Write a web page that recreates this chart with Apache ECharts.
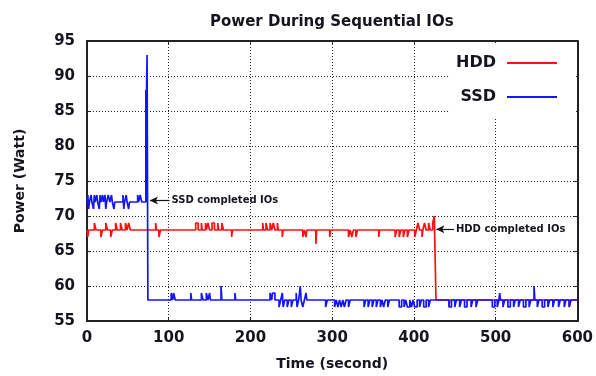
<!DOCTYPE html>
<html>
<head>
<meta charset="utf-8">
<script src="https://cdn.jsdelivr.net/npm/echarts@6/dist/echarts.min.js"></script>
<style>html,body{margin:0;padding:0;background:#fff}#c{width:596px;height:376px}</style>
</head>
<body>
<div id="c"></div>
<script>
// Data: change points [time (s), power (W)]
var seriesNames = ['HDD', 'SSD'];
var hddPoints = [
[0,68],[1,67],[2,68],[9,69],[11,68],[17,67],[19,68],[23,69],[25,68],[29,67],[31,68],[35,69],[37,68],[41,69],[43,68],[47,69],[49,68],[51,69],[53,68],[84,69],[85,68],[88,67],[90,68],
[133,69],[136,68],[140,69],[141,68],[145,69],[146,68],[148,69],[150,68],[153,69],[156,68],[160,69],[161,68],[165,69],[167,68],[177,67],[178,68],
[215,69],[216,68],[219,69],[221,68],[224,69],[226,68],[228,69],[230,68],[233,69],[234,68],[239,67],[240,68],
[264,67],[266,68],[268,67],[269,68],[280,66],[281,68],[297,67],[298,68],[320,67],[322,68],[324,67],[326,68],[329,67],[331,68],[357,67],[358,68],
[377,67],[379,68],[382,67],[384,68],[387,67],[389,68],[392,67],[394,68],[401,67],[403,68],[405,69],[407,68],[410,67],[411,68],[413,69],[415,68],[418,69],[420,68],[423,69],[425,70],[427,58],
[443,57],[444,58],[590,57],[592,58],[600,58]
];
var ssdPoints = [
[0,72],[1,73],[2,71],[3,72],[5,73],[6,72],[8,71],[9,73],[10,72],[12,73],[13,72],[15,71],[16,73],[17,72],[19,73],[20,72],[22,73],[23,71],[24,72],[26,73],[28,72],[30,73],[31,72],[33,71],[34,72],[44,73],[45,71],[46,72],[48,73],[49,72],[51,71],[52,72],[62,73],[63,72],[65,73],[67,72],[72,88],[72.5,85],[73.5,93],[74.5,58],
[103,59],[105,58],[106,59],[108,58],[127,59],[128,58],[140,59],[142,58],[146,59],[148,58],[150,59],[151,58],[164,60],[165,58],[181,59],[182,58],
[224,59],[226,58],[227,59],[230,58],[235,57],[237,58],[239,59],[240,57],[242,58],[245,57],[247,58],[250,57],[252,58],[256,59],[257,57],[259,58],[261,60],[262,58],[264,57],[266,58],[268,59],[269,58],
[292,57],[294,58],[303,57],[305,58],[307,57],[309,58],[311,57],[313,58],[315,57],[317,58],[320,57],[322,58],
[339,57],[341,58],[344,57],[346,58],[349,57],[351,58],[354,57],[356,58],[359,57],[361,58],[363,57],[365,58],[368,57],[370,58],
[382,57],[385,58],[388,57],[390,58],[392,57],[395,58],[397,57],[399,58],[401,57],[404,58],[407,57],[409,58],[412,57],[415,58],[418,57],[420,58],
[443,57],[446,58],[450,57],[452,58],[456,57],[458,58],[462,57],[465,58],[470,57],[472,58],[476,57],[478,58],
[496,57],[499,58],[502,57],[504,58],[505,59],[506,58],[509,57],[511,58],[515,57],[518,58],[522,57],[524,58],[528,57],[530,58],[534,57],[537,58],[541,57],[543,58],[547,60],[548,58],[551,57],[553,58],[557,57],[560,58],[564,57],[566,58],[570,57],[572,58],[577,57],[579,58],[584,57],[586,58],[590,57],[592,58],[600,58]
];
// Annotations: [label, arrow start [t,W], arrow tip [t,W]]
var ssdNote = ['SSD completed IOs', [101, 72.2], [77, 72.2]];
var hddNote = ['HDD completed IOs', [449, 68.1], [427.5, 68.1]];
var xRange = [0, 600, 100];
var yRange = [55, 95, 5];

var FONT = 'DejaVu Sans';
var TXT = '#151520';
var chart = echarts.init(document.getElementById('c'), null, {renderer: 'canvas'});
var grid = {left: 87, right: 17, top: 41, bottom: 53};
var dotted = {color: '#222', width: 1, type: [1, 2]};
function note(n) {
  return {
    silent: true,
    symbol: ['none', 'arrow'],
    symbolSize: [6, 8],
    lineStyle: {color: '#111', width: 1.2, type: 'solid'},
    label: {show: true, position: 'start', distance: 2, formatter: n[0],
      fontFamily: FONT, fontWeight: 'bold', fontSize: 10, color: TXT},
    data: [[{coord: n[1]}, {coord: n[2]}]]
  };
}
var option = {
  animation: false,
  backgroundColor: '#fff',
  title: {text: 'Power During Sequential IOs', left: 205, top: 10,
    textStyle: {fontFamily: FONT, fontWeight: 'bold', fontSize: 15, color: TXT}},
  legend: {
    data: seriesNames, orient: 'vertical', right: 20, top: 43, align: 'right',
    backgroundColor: '#fff', padding: [11, 19, 12, 6],
    icon: 'rect', itemWidth: 50, itemHeight: 2, itemGap: 16,
    textStyle: {fontFamily: FONT, fontWeight: 'bold', fontSize: 16, color: TXT, lineHeight: 18, padding: [0, 6, 0, 0]}
  },
  grid: grid,
  xAxis: [{
    type: 'value', min: xRange[0], max: xRange[1], interval: xRange[2],
    name: 'Time (second)', nameLocation: 'middle', nameGap: 36,
    nameTextStyle: {fontFamily: FONT, fontWeight: 'bold', fontSize: 14, color: TXT},
    axisLine: {show: true, onZero: false, lineStyle: {color: '#222', width: 2}},
    axisTick: {show: true, inside: true, length: 4, lineStyle: {color: '#222'}},
    axisLabel: {fontFamily: FONT, fontWeight: 'bold', fontSize: 15, color: TXT, margin: 10},
    splitLine: {show: true, lineStyle: dotted}
  }, {
    type: 'value', position: 'top', min: xRange[0], max: xRange[1], interval: xRange[2],
    axisLine: {show: true, onZero: false, lineStyle: {color: '#222', width: 2}},
    axisTick: {show: true, inside: true, length: 4, lineStyle: {color: '#222'}},
    axisLabel: {show: false}, splitLine: {show: false}
  }],
  yAxis: [{
    type: 'value', min: yRange[0], max: yRange[1], interval: yRange[2],
    name: 'Power (Watt)', nameLocation: 'middle', nameGap: 60, nameRotate: 90,
    nameTextStyle: {fontFamily: FONT, fontWeight: 'bold', fontSize: 14, color: TXT},
    axisLine: {show: true, onZero: false, lineStyle: {color: '#222', width: 2}},
    axisTick: {show: true, inside: true, length: 4, lineStyle: {color: '#222'}},
    axisLabel: {fontFamily: FONT, fontWeight: 'bold', fontSize: 15, color: TXT, margin: 12},
    splitLine: {show: true, lineStyle: dotted}
  }, {
    type: 'value', position: 'right', min: yRange[0], max: yRange[1], interval: yRange[2],
    axisLine: {show: true, onZero: false, lineStyle: {color: '#222', width: 2}},
    axisTick: {show: true, inside: true, length: 4, lineStyle: {color: '#222'}},
    axisLabel: {show: false}, splitLine: {show: false}
  }],
  series: [{
    name: seriesNames[0], type: 'line', step: 'end', showSymbol: false, symbol: 'none',
    data: hddPoints, color: '#ff1010',
    lineStyle: {color: '#ff1010', width: 1.7},
    markLine: note(hddNote)
  }, {
    name: seriesNames[1], type: 'line', step: 'end', showSymbol: false, symbol: 'none',
    data: ssdPoints, color: '#1414ff',
    lineStyle: {color: '#1414ff', width: 1.7},
    markLine: note(ssdNote)
  }]
};
chart.setOption(option);
</script>
</body>
</html>
